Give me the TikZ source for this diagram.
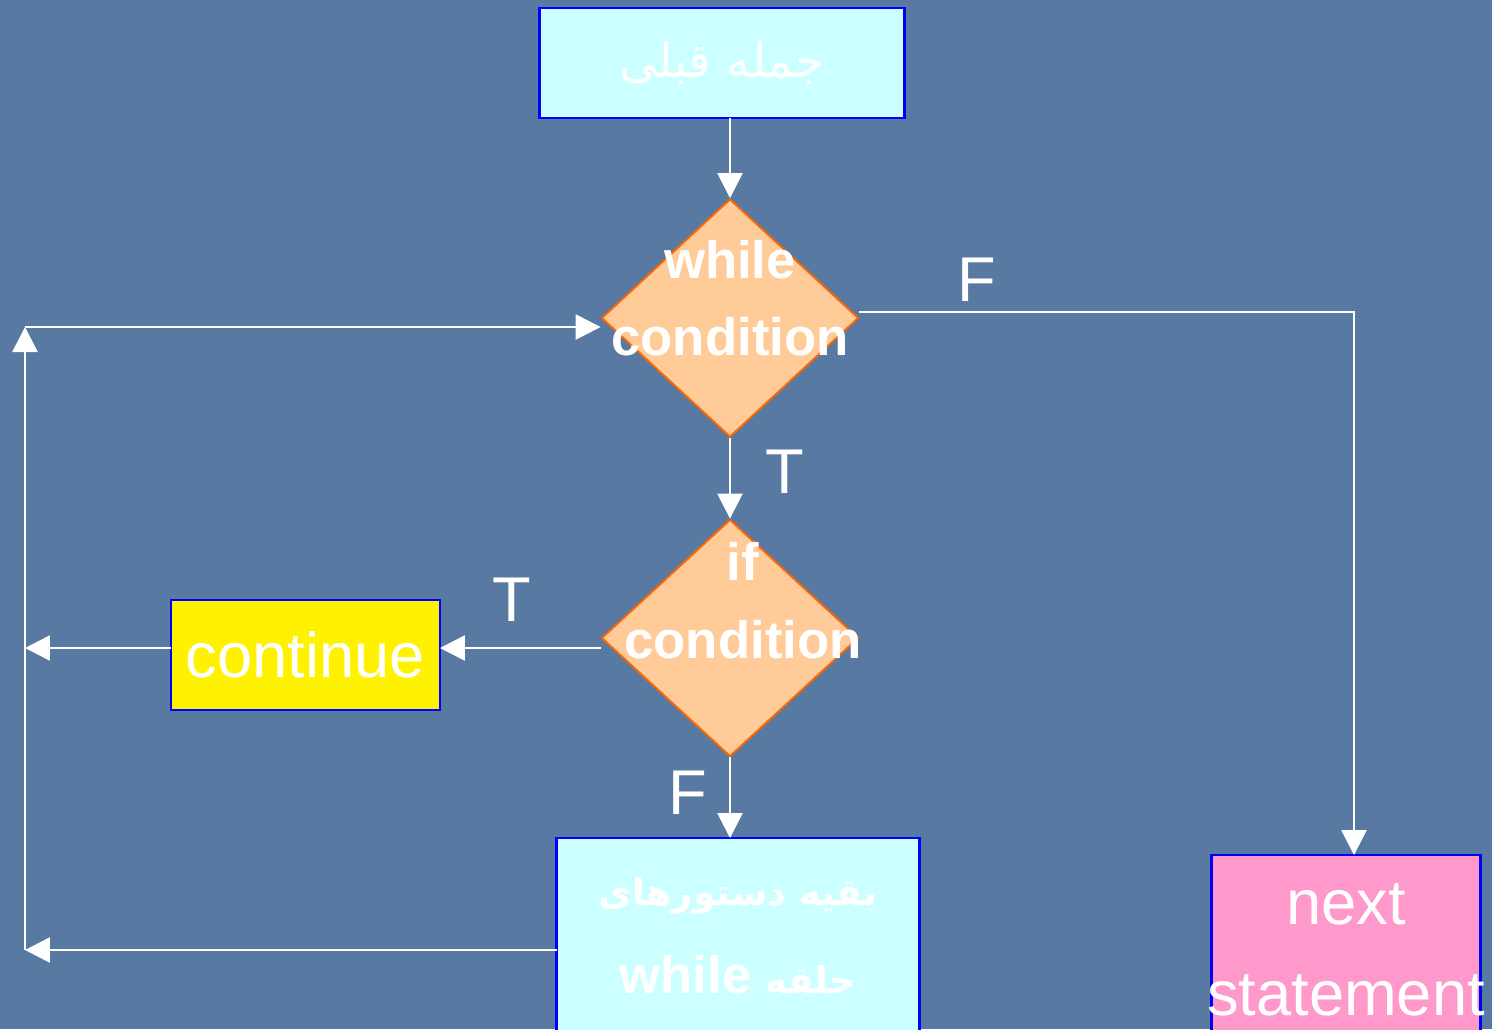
\documentclass[tikz,border=0pt]{standalone}
\usepackage{fontspec}
\setmainfont{Liberation Sans}
\newfontfamily\arabicfont[Script=Arabic]{DejaVu Sans}
\TeXXeTstate=1
\usepackage{tikz}
\usetikzlibrary{shapes.geometric,arrows.meta,positioning}

\definecolor{slate}{RGB}{88,121,161}
\definecolor{paleaqua}{HTML}{CCFFFF}
\definecolor{edgeblue}{HTML}{0000FF}
\definecolor{peach}{HTML}{FFCC99}
\definecolor{peachedge}{HTML}{FF6600}
\definecolor{pinkish}{HTML}{FF99CC}

\begin{document}
\begin{tikzpicture}[x=0.02cm,y=-0.02cm,
    stmt/.style={rectangle, draw=edgeblue, line width=1.6pt, inner sep=0pt,
      outer sep=0pt, text=white, align=center},
    cond/.style={diamond, draw=peachedge, fill=peach, line width=1.1pt, inner sep=0pt},
    condtext/.style={text=white, align=center, inner sep=0pt,
      font=\bfseries\fontsize{30}{44}\selectfont},
    flow/.style={draw=white, line width=1.5pt, -{Triangle[length=0.5cm,width=0.5cm]}},
    tf/.style={text=white, inner sep=0pt, font=\fontsize{36}{36}\selectfont}]
  % background
  \fill[slate] (0,0) rectangle (1492,1029);
  \clip (0,0) rectangle (1492,1029);

  % statements
  \node[stmt, fill=paleaqua, minimum width=7.3cm, minimum height=2.2cm,
    font=\arabicfont\fontsize{27}{27}\selectfont] (prev) at (722,63)
    {\beginR جمله قبلی\endR};
  \node[cond, minimum width=5.14cm, minimum height=4.76cm] (wc) at (730,318) {};
  \node[condtext] (wct) at ([yshift=0.4cm]wc.center) {while\\condition};
  \node[cond, minimum width=5.14cm, minimum height=4.74cm] (ic) at (730,638) {};
  \node[condtext] (ict) at ([xshift=0.26cm,yshift=0.75cm]ic.center) {if\\condition};
  \node[stmt, fill=yellow, minimum width=5.38cm, minimum height=2.2cm,
    font=\fontsize{36}{36}\selectfont] (cont) at (305.5,655) {continue};
  \node[stmt, fill=paleaqua, minimum width=7.26cm, minimum height=3.92cm,
    font=\bfseries\fontsize{30}{50}\selectfont] (rest) at (738,936)
    {{\arabicfont\fontsize{21}{21}\selectfont\beginR بقیه دستورهای\endR}\\
     \beginR{\arabicfont\fontsize{21}{21}\selectfont حلقه} \beginL while\endL\endR};
  \node[stmt, fill=pinkish, minimum width=5.38cm, minimum height=3.8cm,
    inner xsep=-0.15cm, font=\fontsize{36}{52}\selectfont] (next) at (1346,950)
    {next\\statement};

  % loop-back corners
  \coordinate (looptop) at (25,327);
  \coordinate (loopbot) at (25,950);
  \coordinate (contback) at (25,648);
  \coordinate (fcorner) at (1354,312);

  % connectors
  \draw[flow] (prev.south -| wc.north) -- (wc.north);
  \draw[flow] (wc.south) -- (ic.north);
  \draw[flow] ([yshift=-0.2cm]ic.west) -- ([yshift=-0.2cm]ic.west -| cont.east);
  \draw[flow] (cont.west |- contback) -- (contback);
  \draw[flow] (ic.south) -- (rest.north -| ic.south);
  \draw[flow] (rest.west |- loopbot) -- (loopbot);
  \draw[flow] (loopbot) -- (looptop);
  \draw[flow] (looptop) -- (looptop -| wc.west);
  \draw[flow] (wc.east |- fcorner) -- (fcorner) -- (fcorner |- next.north);

  % branch labels
  \node[tf] (wtrue) at (785,472) {T};
  \node[tf] (wfalse) at (977,280) {F};
  \node[tf] (itrue) at (512,600) {T};
  \node[tf] (ifalse) at (688,793) {F};
\end{tikzpicture}
\end{document}
